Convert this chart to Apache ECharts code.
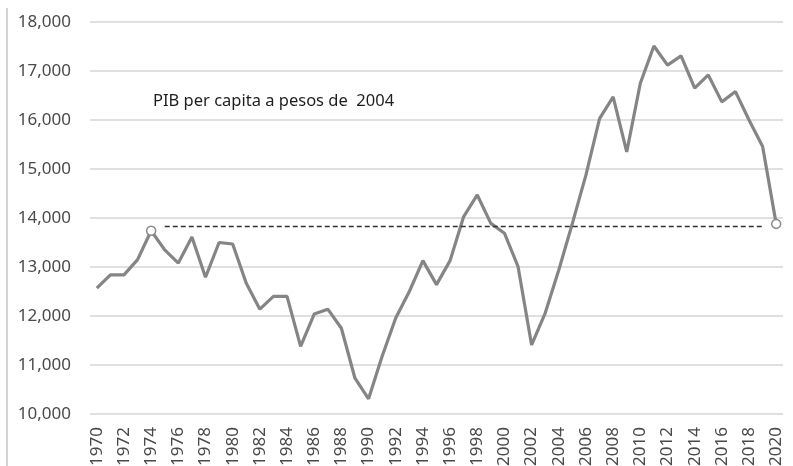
<!DOCTYPE html>
<html>
<head>
<meta charset="utf-8">
<title>PIB per capita</title>
<script src="https://cdn.jsdelivr.net/npm/echarts@6/dist/echarts.min.js"></script>
<style>
  html, body { margin: 0; padding: 0; background: #fff; }
  #chart { width: 793px; height: 466px; }
</style>
</head>
<body>
<div id="chart"></div>
<script>
// años
var years = [];
for (var y = 1970; y <= 2020; y++) years.push(String(y));

// PIB per capita a pesos de 2004
var pib = [
  12570, 12840, 12840, 13150, 13740, 13350, 13080, 13610, 12790, 13500,
  13470, 12670, 12140, 12400, 12400, 11380, 12040, 12140, 11750, 10730,
  10310, 11180, 11960, 12500, 13130, 12640, 13130, 14030, 14470, 13890,
  13690, 13010, 11410, 12060, 12940, 13890, 14880, 16030, 16470, 15350,
  16750, 17510, 17120, 17310, 16650, 16920, 16370, 16580, 16000, 15460,
  13880
];

// linea punteada de referencia (1975 - 2019)
var refLevel = 13840;
var refFrom = '1975';
var refTo = '2019';

// puntos marcados con circulo
var marked = ['1974', '2020'];

var labelFont = '"Noto Sans", sans-serif';

var myChart = echarts.init(document.getElementById('chart'));

var option = {
  animation: false,
  backgroundColor: '#ffffff',
  grid: {
    left: 90,
    right: 10,
    top: 22,
    bottom: 52,
    // las etiquetas del eje x se cortan abajo, como en el original
    outerBoundsMode: 'none'
  },
  title: {
    text: 'PIB per capita a pesos de  2004',
    left: 148,
    top: 88,
    textStyle: {
      fontFamily: labelFont,
      fontSize: 16.5,
      fontWeight: 'normal',
      color: '#1e1e1e'
    }
  },
  graphic: [{
    type: 'line',
    shape: { x1: 7, y1: 8, x2: 7, y2: 466 },
    style: { stroke: '#d4d4d4', lineWidth: 2 }
  }],
  xAxis: {
    type: 'category',
    data: years,
    boundaryGap: true,
    axisLine: { show: false },
    axisTick: { show: false },
    axisLabel: {
      interval: 1,
      rotate: 90,
      margin: 13,
      fontFamily: labelFont,
      fontSize: 17,
      color: '#4a4a4a'
    }
  },
  yAxis: {
    type: 'value',
    min: 10000,
    max: 18000,
    interval: 1000,
    axisLine: { show: false },
    axisTick: { show: false },
    axisLabel: {
      margin: 19,
      fontFamily: labelFont,
      fontSize: 17,
      color: '#4a4a4a',
      formatter: function (v) {
        return v.toLocaleString('en-US');
      }
    },
    splitLine: {
      lineStyle: { color: '#d6d6d6', width: 1.5 }
    }
  },
  series: [{
    type: 'line',
    data: pib.map(function (v, i) {
      if (marked.indexOf(years[i]) >= 0) {
        return {
          value: v,
          symbol: 'circle',
          symbolSize: 9,
          itemStyle: { color: '#ffffff', borderColor: '#8a8a8a', borderWidth: 1.5 }
        };
      }
      return v;
    }),
    symbol: 'none',
    showAllSymbol: true,
    lineStyle: { color: '#858585', width: 3.2 },
    markLine: {
      silent: true,
      symbol: 'none',
      label: { show: false },
      lineStyle: { color: '#333333', type: [5, 3], width: 1.3 },
      data: [[
        { coord: [refFrom, refLevel] },
        { coord: [refTo, refLevel] }
      ]]
    },
    z: 3
  }]
};

myChart.setOption(option);
</script>
</body>
</html>
